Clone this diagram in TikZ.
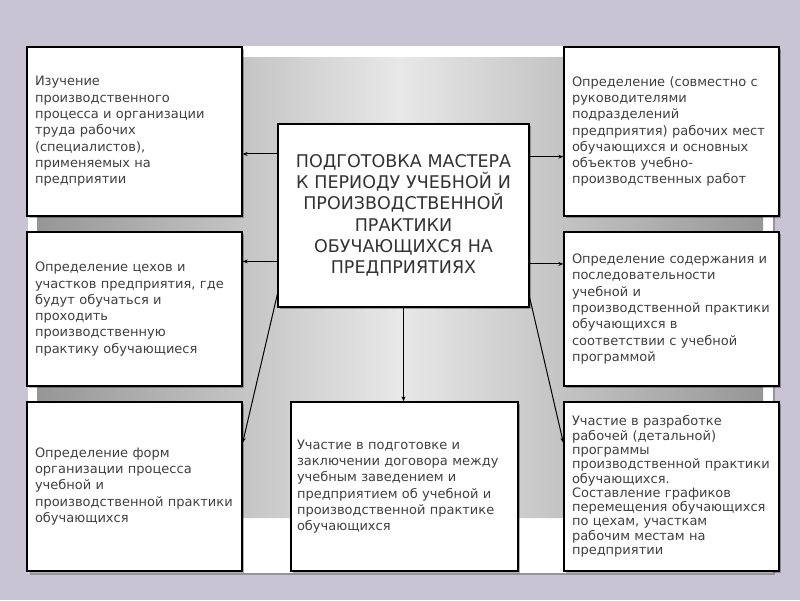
\documentclass[tikz,border=0pt]{standalone}
\usepackage{fontspec}
\setmainfont{DejaVu Sans}
\usetikzlibrary{arrows.meta, calc, shadows}
\definecolor{slidebg}{RGB}{201, 196, 211}
\definecolor{txtgray}{RGB}{64, 64, 64}
\definecolor{bandgray}{RGB}{150, 150, 150}
\definecolor{bandlight}{RGB}{232, 232, 232}
\tikzset{
    taskbox/.style={draw=black, line width=1.3pt, fill=white, rectangle, text=txtgray, align=left, inner xsep=8pt, inner ysep=2pt,
        font=\fontsize{13}{16.3}\selectfont, drop shadow={shadow xshift=2pt, shadow yshift=-2pt, opacity=0.3, fill=black}},
    sidebox/.style={taskbox, text width=199pt, minimum height=169pt},
    midbox/.style={taskbox, text width=199pt, minimum height=154pt},
    masterbox/.style={taskbox, text width=235pt, align=center, minimum height=183pt, text=black!80, font=\fontsize{17.5}{21.3}\selectfont},
    linkarrow/.style={-{Stealth[length=5pt, width=4pt]}, line width=1pt, draw=black},
}
\begin{document}
\begin{tikzpicture}[x=1pt, y=-1pt]
    \useasboundingbox (0,0) rectangle (800,600);
    % Slide
    \fill[slidebg] (0,0) rectangle (800,600);
    \fill[white, drop shadow={shadow xshift=2pt, shadow yshift=-2pt, opacity=0.25, fill=black}] (28,46) rectangle (773,573);
    \shade[left color=bandgray, right color=bandgray, middle color=bandlight]
        (37,518) {[rounded corners=8pt] -- (37,57) -- (763,57)} -- (763,518) -- cycle;

    % Centre
    \node[masterbox] (master) at (403.5,215.5) {ПОДГОТОВКА МАСТЕРА\\К ПЕРИОДУ УЧЕБНОЙ И\\ПРОИЗВОДСТВЕННОЙ\\ПРАКТИКИ\\ОБУЧАЮЩИХСЯ НА\\ПРЕДПРИЯТИЯХ};

    % Left column
    \node[sidebox] (study) at (134.5,131.5) {Изучение\\производственного\\процесса и организации\\труда рабочих\\(специалистов),\\применяемых на\\предприятии};
    \node[midbox] (shops) at (134.5,309) {Определение цехов и\\участков предприятия, где\\будут обучаться и\\проходить\\производственную\\практику обучающиеся};
    \node[sidebox] (forms) at (134.5,486.5) {Определение форм\\организации процесса\\учебной и\\производственной практики\\обучающихся};

    % Right column
    \node[sidebox] (places) at (671.5,131.5) {Определение (совместно с\\руководителями\\подразделений\\предприятия) рабочих мест\\обучающихся и основных\\объектов учебно-\\производственных работ};
    \node[midbox] (content) at (671.5,309) {Определение содержания и\\последовательности\\учебной и\\производственной практики\\обучающихся в\\соответствии с учебной\\программой};
    \node[sidebox, font=\fontsize{13}{14.3}\selectfont] (program) at (671.5,486.5) {Участие в разработке\\рабочей (детальной)\\программы\\производственной практики\\обучающихся.\\Составление графиков\\перемещения обучающихся\\по цехам, участкам\\рабочим местам на\\предприятии};

    % Contract
    \node[taskbox, text width=215pt, inner xsep=6pt, minimum height=169pt] (contract) at (404.5,486.5) {Участие в подготовке и\\заключении договора между\\учебным заведением и\\предприятием об учебной и\\производственной практике\\обучающихся};

    % Arrows
    \draw[linkarrow] (master.154.6) -- (master.154.6 -| study.east);
    \draw[linkarrow] (master.200.7) -- (master.200.7 -| shops.east);
    \draw[linkarrow] (master.212.3) -- (forms.22);
    \draw[linkarrow] (master.25.4) -- (master.25.4 -| places.west);
    \draw[linkarrow] (master.339.3) -- (master.339.3 -| content.west);
    \draw[linkarrow] (master.327.7) -- (program.158);
    \draw[linkarrow] (master.south) -- (master.south |- contract.north);
\end{tikzpicture}
\end{document}
